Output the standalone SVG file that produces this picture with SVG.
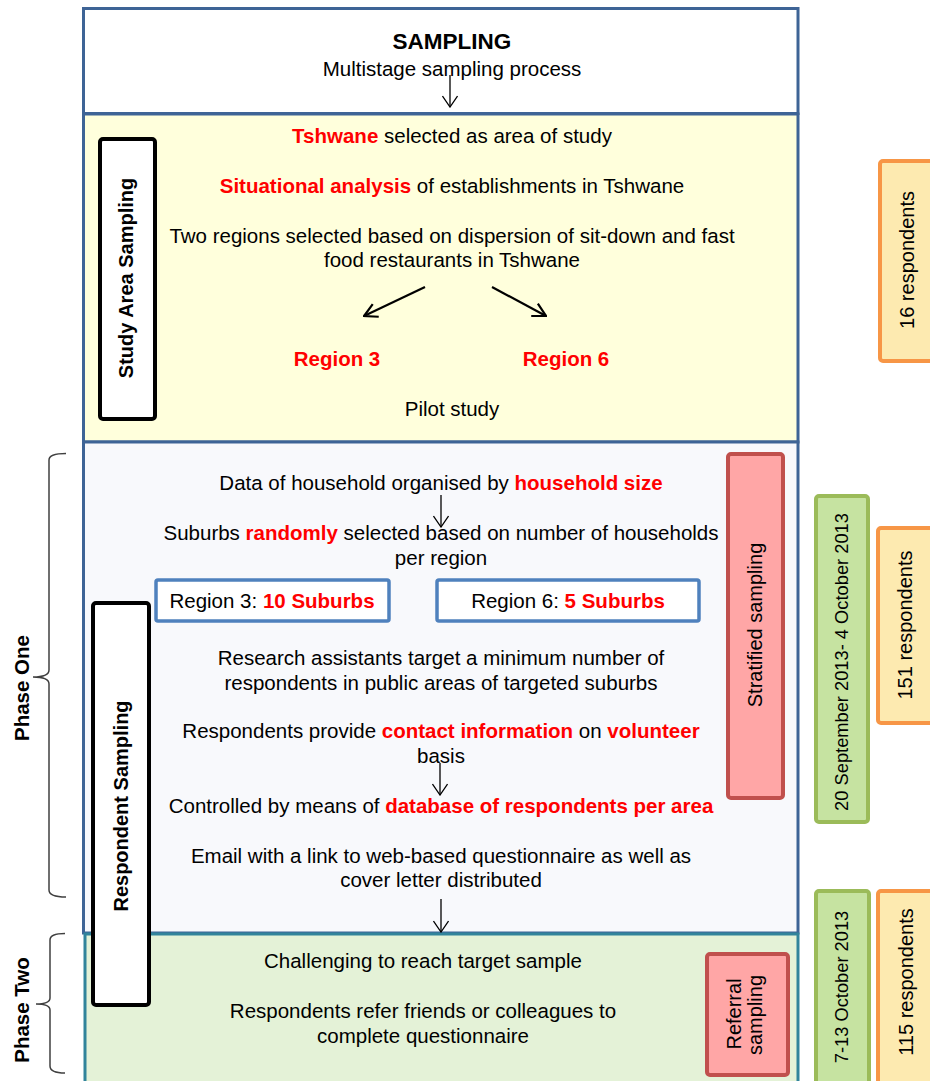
<svg xmlns="http://www.w3.org/2000/svg" width="930" height="1081" viewBox="0 0 930 1081">
<style>
text{font-family:"Liberation Sans",Arial,sans-serif;font-size:20.5px;fill:#000}
.c{text-anchor:middle}
.b{font-weight:bold}
.h{font-size:22.5px}
.v{font-size:20px}
.r{fill:#ff0000;font-weight:bold}
.d{font-size:18.3px}
.sec{stroke:#3e6496;stroke-width:3}
.lbl{fill:#fff;stroke:#000;stroke-width:4}
.strat{fill:#ffa6a6;stroke:#c0504d;stroke-width:4}
.date{fill:#c6e3a1;stroke:#9bbb59;stroke-width:4}
.resp{fill:#fdeab0;stroke:#f79646;stroke-width:4}
.reg{fill:#fff;stroke:#4f81bd;stroke-width:3.5}
.arr{stroke:#000;stroke-width:1.3;fill:none}
.arr2{stroke:#000;stroke-width:2.2;fill:none}
.brace{stroke:#404040;stroke-width:1.5;fill:none}
</style>
<defs>
<marker id="ah" viewBox="-13 -8 14 16" markerWidth="14" markerHeight="16" refX="0" refY="0" orient="auto" markerUnits="userSpaceOnUse">
<path d="M-11,-7.5 L0,0 L-11,7.5" fill="none" stroke="#000" stroke-width="1.3"/>
</marker>
<marker id="ah2" viewBox="-15 -9 16 18" markerWidth="16" markerHeight="18" refX="0" refY="0" orient="auto" markerUnits="userSpaceOnUse">
<path d="M-13,-7 L0,0 L-13,7" fill="none" stroke="#000" stroke-width="2.2"/>
</marker>
</defs>

<g id="sampling">
<rect x="83.5" y="8.5" width="714.5" height="105" fill="#fff" class="sec"/>
<text x="452" y="49" class="c b h">SAMPLING</text>
<text x="452" y="76" class="c">Multistage sampling process</text>
</g>

<g id="study-area">
<rect x="83.5" y="114" width="714.5" height="328" fill="#ffffdc" class="sec"/>
<text x="452" y="143" class="c"><tspan class="r">Tshwane</tspan> selected as area of study</text>
<text x="452" y="193" class="c"><tspan class="r">Situational analysis</tspan> of establishments in Tshwane</text>
<text x="452" y="243" class="c">Two regions selected based on dispersion of sit-down and fast</text>
<text x="452" y="267" class="c">food restaurants in Tshwane</text>
<text x="337" y="366" class="c r">Region 3</text>
<text x="566" y="366" class="c r">Region 6</text>
<text x="452" y="416" class="c">Pilot study</text>
</g>

<g id="phase-one">
<rect x="83.5" y="442" width="714.5" height="491" fill="#f8f9fc" class="sec"/>
<text x="441" y="490" class="c">Data of household organised by <tspan class="r">household size</tspan></text>
<text x="441" y="540" class="c">Suburbs <tspan class="r">randomly</tspan> selected based on number of households</text>
<text x="441" y="565" class="c">per region</text>
<text x="441" y="665" class="c">Research assistants target a minimum number of</text>
<text x="441" y="690" class="c">respondents in public areas of targeted suburbs</text>
<text x="441" y="738" class="c">Respondents provide <tspan class="r">contact information</tspan> on <tspan class="r">volunteer</tspan></text>
<text x="441" y="763" class="c">basis</text>
<text x="441" y="813" class="c">Controlled by means of <tspan class="r">database of respondents per area</tspan></text>
<text x="441" y="863" class="c">Email with a link to web-based questionnaire as well as</text>
<text x="441" y="887" class="c">cover letter distributed</text>
</g>

<g id="region3-box">
<rect x="156" y="580" width="233" height="41" rx="2" class="reg"/>
<text x="272" y="608" class="c">Region 3: <tspan class="r">10 Suburbs</tspan></text>
</g>
<g id="region6-box">
<rect x="437" y="580" width="262" height="41" rx="2" class="reg"/>
<text x="568" y="608" class="c">Region 6: <tspan class="r">5 Suburbs</tspan></text>
</g>

<g id="phase-two">
<rect x="85" y="934" width="713" height="160" fill="#e4f2d7" stroke="#31849b" stroke-width="3"/>
<text x="423" y="968" class="c">Challenging to reach target sample</text>
<text x="423" y="1018" class="c">Respondents refer friends or colleagues to</text>
<text x="423" y="1043" class="c">complete questionnaire</text>
</g>

<g id="study-area-label">
<rect x="100" y="139" width="55" height="280" rx="3" class="lbl"/>
<text transform="translate(133,278) rotate(-90)" class="c b v">Study Area Sampling</text>
</g>

<g id="respondent-label">
<rect x="93" y="603" width="56" height="402" rx="3" class="lbl"/>
<text transform="translate(128,806) rotate(-90)" class="c b v">Respondent Sampling</text>
</g>

<g id="stratified">
<rect x="728" y="454" width="55" height="344" rx="3" class="strat"/>
<text transform="translate(762,625) rotate(-90)" class="c v">Stratified sampling</text>
</g>

<g id="referral">
<rect x="707" y="954" width="81" height="121" rx="3" class="strat"/>
<text transform="translate(741,1014) rotate(-90)" class="c v">Referral</text>
<text transform="translate(762,1015) rotate(-90)" class="c v">sampling</text>
</g>

<g id="resp16">
<rect x="880" y="161" width="60" height="200" rx="3" class="resp"/>
<text transform="translate(914,260) rotate(-90)" class="c v">16 respondents</text>
</g>

<g id="date1">
<rect x="816" y="496" width="52" height="326" rx="3" class="date"/>
<text transform="translate(848,662) rotate(-90)" class="c d">20 September 2013- 4 October 2013</text>
</g>

<g id="resp151">
<rect x="878" y="528" width="62" height="195" rx="3" class="resp"/>
<text transform="translate(912,625) rotate(-90)" class="c v">151 respondents</text>
</g>

<g id="date2">
<rect x="816" y="891" width="53" height="210" rx="3" class="date"/>
<text transform="translate(848,987) rotate(-90)" class="c d">7-13 October 2013</text>
</g>

<g id="resp115">
<rect x="878" y="891" width="62" height="210" rx="3" class="resp"/>
<text transform="translate(913,982) rotate(-90)" class="c v">115 respondents</text>
</g>

<g id="phase-one-label">
<path class="brace" d="M66,453.5 Q49,453.5 49,460 L49,670 Q49,677 33,677 Q49,677 49,684 L49,890 Q49,897 66,897"/>
<text transform="translate(29,688) rotate(-90)" class="c b">Phase One</text>
</g>

<g id="phase-two-label">
<path class="brace" d="M65,933.5 Q50,933.5 50,940 L50,998 Q50,1004 36,1004 Q50,1004 50,1010 L50,1066 Q50,1073 65,1073"/>
<text transform="translate(29,1010) rotate(-90)" class="c b">Phase Two</text>
</g>

<g id="connectors">
<line x1="450" y1="75" x2="450" y2="107" class="arr" marker-end="url(#ah)"/>
<line x1="425" y1="287" x2="364" y2="316" class="arr2" marker-end="url(#ah2)"/>
<line x1="492" y1="287" x2="546" y2="316" class="arr2" marker-end="url(#ah2)"/>
<line x1="441" y1="495" x2="441" y2="527" class="arr" marker-end="url(#ah)"/>
<line x1="440" y1="763" x2="440" y2="795" class="arr" marker-end="url(#ah)"/>
<line x1="441" y1="899" x2="441" y2="932" class="arr" marker-end="url(#ah)"/>
</g>
</svg>
